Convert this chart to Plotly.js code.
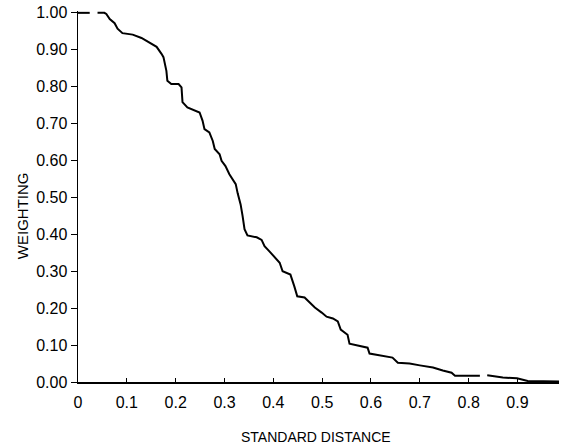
<!DOCTYPE html>
<html>
<head>
<meta charset="utf-8">
<script src="https://cdn.plot.ly/plotly-3.0.1.min.js"></script>
<style>html,body{margin:0;padding:0;background:#fff;}#chart{width:561px;height:448px;}</style>
</head>
<body>
<div id="chart"></div>
<script>
// Standard distance (x) and weighting (y); null marks a gap in the curve
var distance = [0.000, 0.024, null,
  0.040, 0.054, 0.058, 0.065, 0.075, 0.081, 0.091, 0.112, 0.130, 0.147, 0.161, 0.171, 0.175,
  0.181, 0.183, 0.191, 0.206, 0.212, 0.214, 0.224, 0.238, 0.249, 0.255, 0.259, 0.269, 0.276,
  0.280, 0.290, 0.294, 0.302, 0.310, 0.317, 0.323, 0.327, 0.333, 0.337, 0.341, 0.347, 0.366,
  0.376, 0.382, 0.392, 0.403, 0.413, 0.419, 0.435, 0.443, 0.449, 0.464, 0.474, 0.485, 0.499,
  0.509, 0.522, 0.532, 0.538, 0.552, 0.556, 0.583, 0.593, 0.597, 0.628, 0.644, 0.655, 0.679,
  0.700, 0.727, 0.747, 0.765, 0.772, 0.823, null,
  0.838, 0.870, 0.899, 0.915, 0.921, 0.987];
var weighting = [1.000, 1.000, null,
  1.000, 1.000, 0.997, 0.983, 0.972, 0.957, 0.945, 0.941, 0.932, 0.920, 0.908, 0.889, 0.880,
  0.843, 0.816, 0.807, 0.807, 0.798, 0.758, 0.744, 0.735, 0.730, 0.708, 0.685, 0.676, 0.653,
  0.631, 0.617, 0.599, 0.585, 0.563, 0.547, 0.536, 0.511, 0.481, 0.450, 0.414, 0.397, 0.392,
  0.385, 0.368, 0.354, 0.337, 0.323, 0.300, 0.291, 0.259, 0.232, 0.229, 0.215, 0.202, 0.188,
  0.177, 0.172, 0.164, 0.142, 0.128, 0.104, 0.096, 0.093, 0.077, 0.071, 0.066, 0.052, 0.050,
  0.045, 0.039, 0.031, 0.025, 0.017, 0.017, null,
  0.018, 0.012, 0.010, 0.006, 0.003, 0.001];

var xTickVals = [0, 0.1, 0.2, 0.3, 0.4, 0.5, 0.6, 0.7, 0.8, 0.9];
var xTickText = ["0", "0.1", "0.2", "0.3", "0.4", "0.5", "0.6", "0.7", "0.8", "0.9"];
var yTickVals = [0, 0.1, 0.2, 0.3, 0.4, 0.5, 0.6, 0.7, 0.8, 0.9, 1.0];
var yTickText = ["0.00", "0.10", "0.20", "0.30", "0.40", "0.50", "0.60", "0.70", "0.80", "0.90", "1.00"];
var xTitle = "STANDARD DISTANCE";
var yTitle = "WEIGHTING";

var font = "Liberation Sans, Arial, sans-serif";

Plotly.newPlot("chart", [{
  x: distance, y: weighting, type: "scatter", mode: "lines",
  connectgaps: false,
  line: {color: "#000", width: 2},
  hoverinfo: "skip"
}], {
  width: 561, height: 448,
  margin: {l: 78, r: 2, t: 11, b: 66},
  paper_bgcolor: "#fff", plot_bgcolor: "#fff",
  showlegend: false,
  font: {family: font, size: 16, color: "#000"},
  xaxis: {
    range: [0, 0.985], showgrid: false, zeroline: false,
    showline: true, linecolor: "#000", linewidth: 1.5,
    ticks: "inside", ticklen: 4, tickwidth: 1, tickcolor: "#000",
    tickvals: xTickVals, ticktext: xTickText, ticklabelstandoff: 5,
    tickfont: {family: font, size: 16, color: "#000"}
  },
  yaxis: {
    range: [0, 1.005], showgrid: false, zeroline: false,
    showline: true, linecolor: "#000", linewidth: 1.5,
    ticks: "outside", ticklen: 6, tickwidth: 1, tickcolor: "#000",
    tickvals: yTickVals, ticktext: yTickText,
    tickfont: {family: font, size: 16, color: "#000"}
  },
  annotations: [
    {text: xTitle, xref: "paper", yref: "paper", x: 0.495, y: -0.148,
     xanchor: "center", yanchor: "middle", showarrow: false,
     font: {family: font, size: 14, color: "#000"}},
    {text: yTitle, xref: "paper", yref: "paper", x: -0.1164, y: 0.447,
     xanchor: "center", yanchor: "middle", showarrow: false, textangle: -90,
     font: {family: font, size: 15, color: "#000"}}
  ]
}, {staticPlot: true});
</script>
</body>
</html>
